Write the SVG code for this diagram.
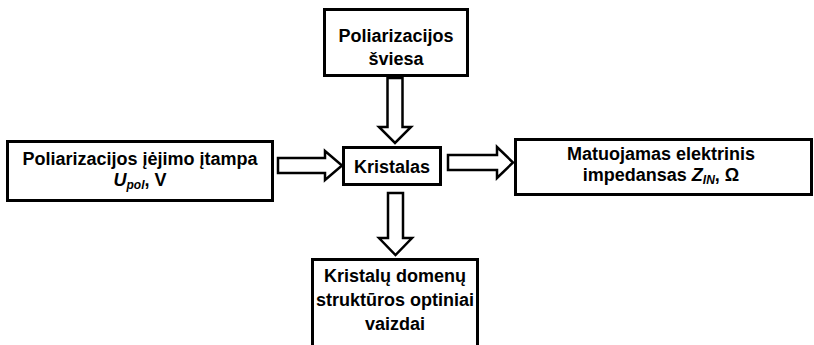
<svg xmlns="http://www.w3.org/2000/svg" width="814" height="345" viewBox="0 0 814 345">
<style>
.box{fill:#fff;stroke:#000;stroke-width:3}
.arr{fill:#fff;stroke:#000;stroke-width:2.5;stroke-linejoin:miter}
text{font-family:"Liberation Sans",Arial,sans-serif;font-weight:bold;font-size:18px;fill:#000;text-anchor:middle}
.it{font-style:italic}
.sub{font-style:italic;font-size:12px}
</style>
<rect width="814" height="345" fill="#fff"/>
<g id="connectors">
<polygon class="arr" points="387.5,78 402.5,78 402.5,127 411,127 395,143 379,127 387.5,127"/>
<polygon class="arr" points="278,158 325,158 325,151 342,165.5 325,180 325,173 278,173"/>
<polygon class="arr" points="448,155 497,155 497,147 513,162.5 497,178 497,170 448,170"/>
<polygon class="arr" points="388,193 403,193 403,238 412,238 395.5,255 379,238 388,238"/>
</g>
<g id="top">
<rect class="box" x="324.5" y="9.5" width="143" height="66"/>
<text x="396" y="42">Poliarizacijos</text>
<text x="396" y="65">šviesa</text>
</g>
<g id="left">
<rect class="box" x="7.5" y="141.5" width="265" height="59"/>
<text x="140" y="164.5">Poliarizacijos įėjimo įtampa</text>
<text x="140" y="185.5"><tspan class="it">U</tspan><tspan class="sub" dy="3">pol</tspan><tspan dy="-3">, V</tspan></text>
</g>
<g id="center">
<rect class="box" x="343.5" y="147.5" width="97" height="37"/>
<text x="392" y="173">Kristalas</text>
</g>
<g id="right">
<rect class="box" x="515.5" y="139.5" width="296" height="55"/>
<text x="661" y="159.5">Matuojamas elektrinis</text>
<text x="661" y="180.5">impedansas <tspan class="it">Z</tspan><tspan class="sub" dy="3">IN</tspan><tspan dy="-3">, Ω</tspan></text>
</g>
<g id="bottom">
<polyline class="box" points="312.5,346 312.5,259.5 477.5,259.5 477.5,346"/>
<text x="395" y="282">Kristalų domenų</text>
<text x="395" y="306">struktūros optiniai</text>
<text x="395" y="330">vaizdai</text>
</g>
</svg>
